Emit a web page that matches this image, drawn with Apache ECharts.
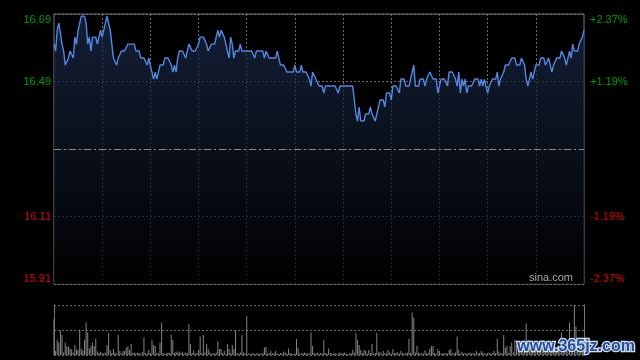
<!DOCTYPE html>
<html><head><meta charset="utf-8">
<script src="https://cdn.jsdelivr.net/npm/echarts@6/dist/echarts.min.js"></script>
<style>html,body{margin:0;padding:0;background:#000;}#c{width:640px;height:360px;}</style>
</head><body><div id="c"></div>
<script>
const preClose = 16.30;
const priceMin = 15.914;
const priceMax = 16.686;
const priceStep = 0.193;
const priceTickLabels = ['15.91', '16.11', '', '16.49', '16.69']; // bottom -> top
const pctTickLabels = ['-2.37%', '-1.19%', '', '+1.19%', '+2.37%'];

const prices = [
16.60,16.58,16.64,16.66,16.66,16.60,16.58,16.54,16.54,16.56,
16.58,16.58,16.56,16.62,16.60,16.64,16.66,16.68,16.68,16.68,
16.66,16.60,16.62,16.58,16.62,16.62,16.62,16.60,16.62,16.64,
16.62,16.64,16.66,16.68,16.66,16.64,16.60,16.56,16.56,16.54,
16.56,16.56,16.58,16.58,16.58,16.58,16.60,16.60,16.60,16.60,
16.60,16.58,16.58,16.58,16.56,16.56,16.56,16.56,16.54,16.56,
16.56,16.52,16.50,16.52,16.50,16.52,16.54,16.54,16.54,16.56,
16.56,16.56,16.56,16.54,16.52,16.54,16.52,16.56,16.58,16.58,
16.58,16.58,16.56,16.58,16.60,16.60,16.58,16.58,16.58,16.58,
16.60,16.62,16.62,16.62,16.62,16.60,16.58,16.58,16.60,16.60,
16.60,16.62,16.64,16.62,16.64,16.64,16.62,16.62,16.58,16.56,
16.62,16.60,16.56,16.58,16.58,16.58,16.60,16.58,16.58,16.58,
16.58,16.58,16.58,16.58,16.58,16.56,16.58,16.58,16.58,16.58,
16.58,16.56,16.58,16.58,16.56,16.56,16.56,16.56,16.56,16.58,
16.58,16.54,16.54,16.54,16.54,16.52,16.52,16.52,16.52,16.52,
16.54,16.52,16.52,16.52,16.54,16.52,16.52,16.52,16.52,16.50,
16.48,16.52,16.52,16.50,16.50,16.48,16.48,16.48,16.46,16.48,
16.48,16.48,16.48,16.48,16.48,16.48,16.48,16.46,16.48,16.48,
16.48,16.48,16.48,16.48,16.48,16.48,16.48,16.44,16.40,16.38,
16.42,16.38,16.38,16.38,16.40,16.40,16.40,16.42,16.40,16.40,
16.38,16.40,16.42,16.44,16.44,16.44,16.42,16.46,16.46,16.46,
16.44,16.48,16.48,16.48,16.48,16.46,16.50,16.50,16.50,16.48,
16.48,16.48,16.48,16.52,16.54,16.48,16.48,16.48,16.50,16.50,
16.50,16.48,16.50,16.50,16.52,16.52,16.50,16.50,16.50,16.46,
16.46,16.50,16.50,16.50,16.50,16.48,16.52,16.52,16.52,16.52,
16.50,16.48,16.52,16.46,16.50,16.48,16.50,16.46,16.48,16.48,
16.48,16.48,16.50,16.50,16.50,16.48,16.50,16.48,16.50,16.48,
16.46,16.48,16.48,16.50,16.50,16.50,16.52,16.48,16.50,16.50,
16.52,16.54,16.54,16.54,16.54,16.56,16.56,16.56,16.54,16.54,
16.54,16.56,16.56,16.54,16.50,16.48,16.50,16.52,16.50,16.52,
16.54,16.54,16.54,16.56,16.56,16.56,16.54,16.54,16.56,16.56,
16.52,16.54,16.54,16.56,16.56,16.56,16.58,16.58,16.56,16.54,
16.54,16.58,16.56,16.60,16.58,16.58,16.58,16.60,16.60,16.62,16.64
];

const volumes = [
72,8,30,25,49,40,5,25,17,17,
13,11,5,20,11,10,51,13,9,30,
65,45,13,18,25,18,33,7,4,6,
4,3,5,20,44,10,4,12,5,3,
40,8,3,8,8,15,17,10,22,4,
5,3,5,4,3,6,35,4,3,10,
4,30,20,18,4,3,25,65,4,3,
3,5,4,41,30,4,7,5,7,4,
6,3,5,4,62,22,4,9,3,4,
10,37,4,40,5,22,12,5,3,4,
3,5,27,12,12,4,8,3,22,12,
4,20,12,50,4,3,5,40,5,3,
78,3,2,3,4,2,3,4,2,3,
4,15,16,3,4,8,3,4,8,3,
2,4,3,7,5,3,13,4,3,2,
3,32,14,3,3,4,5,3,4,3,
45,18,4,3,5,3,4,3,30,4,
3,13,4,3,3,4,2,3,5,3,
4,5,3,2,3,4,10,5,44,30,
20,10,4,10,8,3,10,4,22,3,
4,44,5,6,3,8,4,3,10,5,
3,12,4,5,5,3,8,4,3,4,
5,32,4,85,75,5,18,5,3,4,
3,10,3,4,13,18,18,4,3,12,
8,3,4,3,4,3,10,12,4,3,
5,37,10,3,6,3,4,3,4,5,
3,4,3,8,3,4,8,5,3,3,
4,5,3,4,8,4,33,7,3,4,
40,15,18,4,18,25,5,30,20,12,
22,8,15,10,63,12,18,8,14,10,
20,6,12,9,16,11,8,18,12,7,
15,10,13,9,20,14,45,30,12,16,
10,65,14,20,100,57,20,12,18,10,25
];

// session times: 09:30-12:00, 13:01-16:00
const times = [];
for (let m = 0; m < prices.length; m++) {
  let t = m <= 150 ? 9 * 60 + 30 + m : 13 * 60 + (m - 150);
  times.push(String(Math.floor(t / 60)).padStart(2, '0') + ':' + String(t % 60).padStart(2, '0'));
}

const FONT = 'Liberation Sans, Arial, sans-serif';
const GRID_COLOR = '#6a6a6a';
const idxOf = v => Math.round((v - priceMin) / priceStep);
const labelColor = v => (v > preClose + 1e-6 ? '#00a000' : '#e00000');

const chart = echarts.init(document.getElementById('c'), null, { renderer: 'canvas' });
chart.setOption({
  backgroundColor: '#000',
  animation: false,
  grid: [
    { left: 54, top: 14, width: 530, height: 270, show: true, borderColor: '#777', borderWidth: 1, backgroundColor: 'transparent' },
    { left: 54, top: 305, width: 530, height: 50, show: false }
  ],
  xAxis: [
    {
      type: 'category', gridIndex: 0, data: times, boundaryGap: false,
      axisLine: { show: false }, axisTick: { show: false }, axisLabel: { show: false },
      splitLine: { show: true, interval: (i) => i > 0 && i < times.length - 1 && i % 30 === 0,
        lineStyle: { color: GRID_COLOR, type: [2, 2], width: 1 } }
    },
    {
      type: 'category', gridIndex: 1, data: times, boundaryGap: false,
      axisLine: { show: false }, axisTick: { show: false }, axisLabel: { show: false },
      splitLine: { show: false }
    }
  ],
  yAxis: [
    {
      type: 'value', gridIndex: 0, position: 'left', min: priceMin, max: priceMax, interval: priceStep,
      axisLine: { show: false }, axisTick: { show: false },
      axisLabel: {
        fontFamily: FONT, fontSize: 11, margin: 3,
        formatter: (v) => priceTickLabels[idxOf(v)] || '',
        color: (v) => labelColor(v),
        verticalAlignMinLabel: 'bottom', verticalAlignMaxLabel: 'top'
      },
      splitLine: { show: true, lineStyle: { color: GRID_COLOR, type: [2, 2], width: 1 } }
    },
    {
      type: 'value', gridIndex: 0, position: 'right', min: priceMin, max: priceMax, interval: priceStep,
      axisLine: { show: false }, axisTick: { show: false },
      axisLabel: {
        fontFamily: FONT, fontSize: 11, margin: 6,
        formatter: (v) => pctTickLabels[idxOf(v)] || '',
        color: (v) => labelColor(v),
        verticalAlignMinLabel: 'bottom', verticalAlignMaxLabel: 'top'
      },
      splitLine: { show: false }
    },
    {
      type: 'value', gridIndex: 1, position: 'left', min: 0, max: 100, interval: 50,
      axisLine: { show: true, lineStyle: { color: '#777', width: 1 } },
      axisTick: { show: false }, axisLabel: { show: false },
      splitLine: { show: true, lineStyle: { color: GRID_COLOR, type: [2, 2], width: 1 } }
    },
    {
      type: 'value', gridIndex: 1, position: 'right', min: 0, max: 100, interval: 50,
      axisLine: { show: true, lineStyle: { color: '#777', width: 1 } },
      axisTick: { show: false }, axisLabel: { show: false }, splitLine: { show: false }
    }
  ],
  series: [
    {
      type: 'line', xAxisIndex: 0, yAxisIndex: 0, data: prices,
      symbol: 'none', smooth: false,
      lineStyle: { color: '#5088e4', width: 1.4 },
      areaStyle: {
        origin: 'start',
        color: new echarts.graphic.LinearGradient(0, 0, 0, 1, [
          { offset: 0, color: '#1c2c4c' },
          { offset: 1, color: '#000000' }
        ])
      },
      markLine: {
        silent: true, symbol: 'none', label: { show: false },
        lineStyle: { color: '#8a8a8a', type: [7, 3, 2, 3], width: 1 },
        data: [{ yAxis: preClose }]
      },
      z: 3
    },
    {
      type: 'bar', xAxisIndex: 1, yAxisIndex: 2, data: volumes,
      barWidth: 1, itemStyle: { color: '#858585' }, z: 3
    }
  ],
  graphic: [
    { type: 'text', right: 67, top: 272, z: 100, style: { text: 'sina.com', fill: '#a8a8a8', font: '11px ' + FONT } },
    { type: 'text', left: 516, top: 337, z: 100,
      style: { text: 'www.365jz.com', fill: '#1f4e9e', stroke: '#d4dcea', lineWidth: 2.5,
        font: 'bold 16px ' + FONT } }
  ]
});
</script>
</body></html>
